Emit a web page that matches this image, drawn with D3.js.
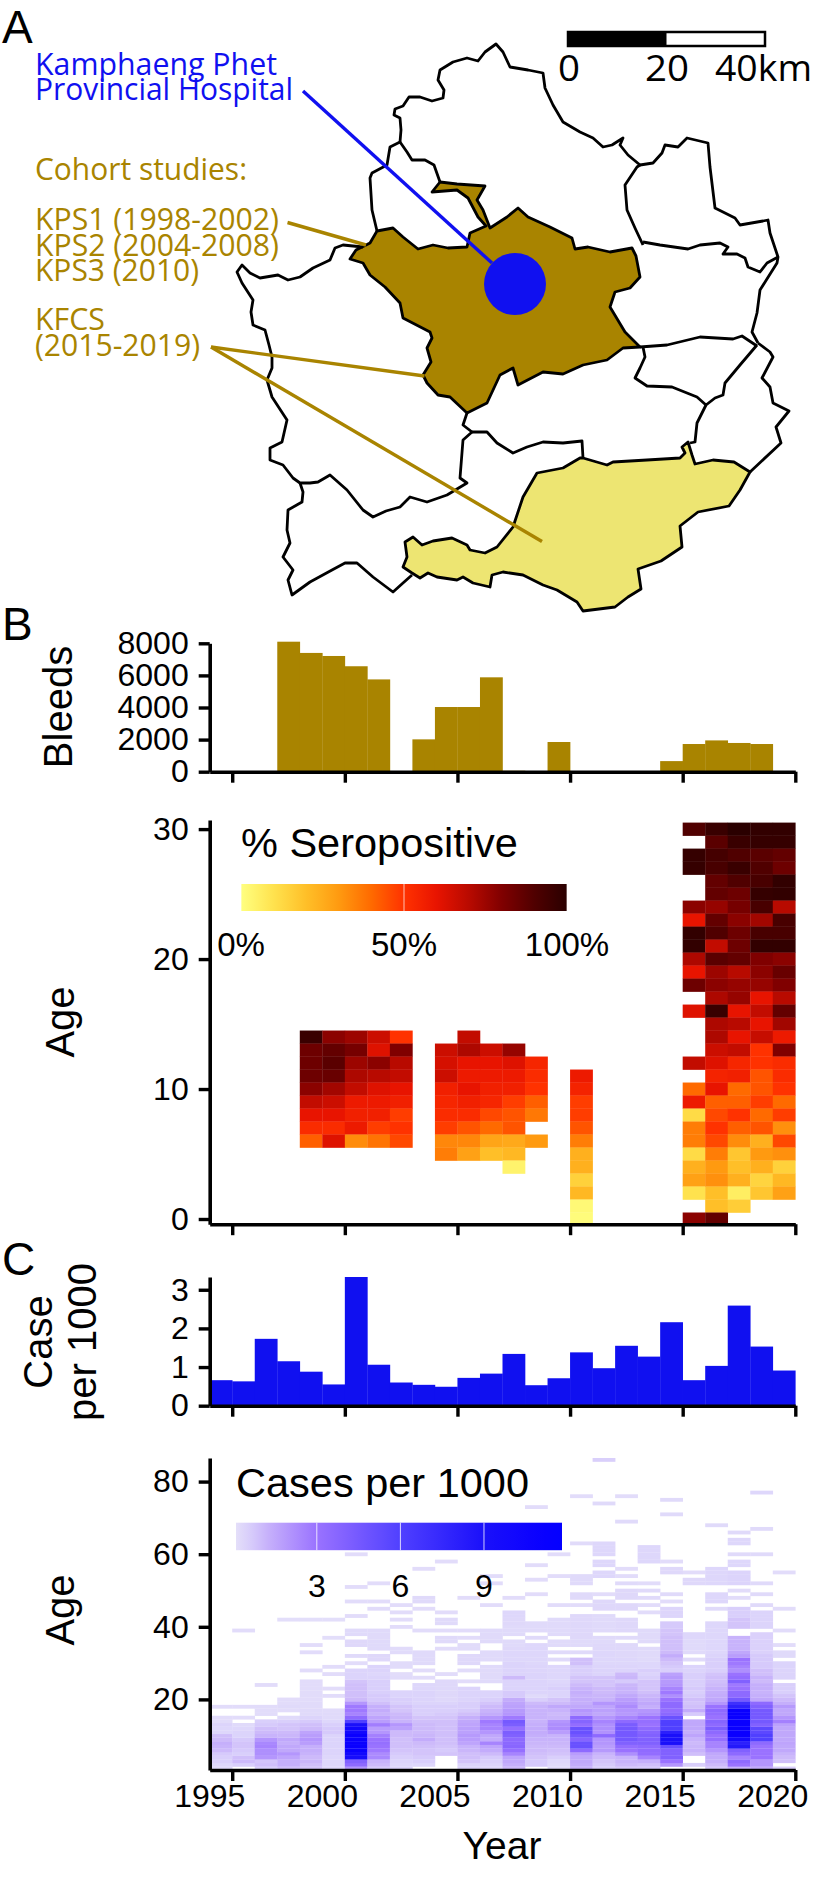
<!DOCTYPE html>
<html>
<head>
<meta charset="utf-8">
<script src="https://cdn.jsdelivr.net/npm/d3@7/dist/d3.min.js"></script>
<style>
  html, body { margin: 0; padding: 0; background: #fff; }
  svg { display: block; font-family: "Liberation Sans", sans-serif; }
  .axis text { font-size: 32px; fill: #000; font-family: "Liberation Sans", sans-serif; }
  .axis path, .axis line { stroke: #000; }
  .axis path { stroke-width: 3.6px; }
  .axis line { stroke-width: 3.4px; }
</style>
</head>
<body>
<div id="chart"></div>
<script>
// top panel: bleeds per study year
var bleedYears = [1998, 1999, 2000, 2001, 2002, 2004, 2005, 2006, 2007, 2008, 2010, 2015, 2016, 2017, 2018, 2019];
var bleedValues = [8100, 7400, 7210, 6570, 5750, 2015, 4030, 4030, 5880, 60, 1850, 660, 1725, 1950, 1790, 1725];
var bleedTicks = [0, 2000, 4000, 6000, 8000];

// seropositivity, one column per year, ages listed from the top age down, null = no data
var seroColumns = [
  { year: 1998, top: 14, values: [96, 84, 84, 84, 78, 68, 60, 52, 42] },
  { year: 1999, top: 14, values: [78, 86, 88, 85, 74, 66, 60, 52, 62] },
  { year: 2000, top: 14, values: [75, 82, 75, 72, 68, 58, 56, 58, 33] },
  { year: 2001, top: 14, values: [66, 62, 78, 70, 62, 58, 56, 48, 38] },
  { year: 2002, top: 14, values: [50, 80, 70, 68, 60, 56, 48, 50, 46] },
  { year: 2004, top: 13, values: [66, 64, 66, 56, 54, 52, 48, 34, 36] },
  { year: 2005, top: 14, values: [68, 72, 60, 58, 60, 56, 52, 44, 34, 28] },
  { year: 2006, top: 13, values: [66, 60, 58, 56, 54, 46, 40, 27, 20] },
  { year: 2007, top: 13, values: [76, 62, 58, 56, 48, 44, 44, 26, 22, 4] },
  { year: 2008, top: 12, values: [54, 52, 50, 42, 37, null, 30] },
  { year: 2010, top: 11, values: [58, 55, 48, 48, 44, 36, 24, 24, 15, 22, 2, 1] },
  { year: 2015, top: 30, values: [90, null, 97, 97, null, null, 78, 60, 98, 98, 72, 60, 84, null, 62, null, null, null, 68, null, 40, 58, 12, 36, 36, 12, 24, 28, 10, null, 78] },
  { year: 2016, top: 30, values: [96, 88, 93, 92, 86, 86, 76, 86, 90, 68, 88, 75, 78, 72, 96, 72, 72, 66, 62, 55, 60, 42, 46, 50, 46, 36, 30, 32, 20, 20, 86] },
  { year: 2017, top: 30, values: [100, 96, 90, 96, 90, 84, 82, 78, 84, 84, 86, 70, 76, 76, 60, 70, 60, 68, 54, 56, 40, 42, 50, 42, 33, 18, 20, 24, 6, 16] },
  { year: 2018, top: 30, values: [98, 97, 88, 90, 92, 97, 92, 74, 92, 98, 80, 78, 76, 60, 68, 60, 67, 50, 50, 44, 44, 48, 40, 44, 24, 30, 24, 14, 18] },
  { year: 2019, top: 30, values: [98, 97, 86, 84, 98, 98, 70, 92, 92, 98, 78, 85, 80, 70, 86, 74, 58, 80, 52, 52, 50, 40, 48, 32, 46, 32, 15, 22, 28] }
];
var ageTicks = [0, 10, 20, 30];
var seroLegendTicks = [0, 50, 100];

// cases per 1000, all ages
var caseYears = d3.range(1995, 2021);
var caseTotals = [0.66, 0.63, 1.73, 1.15, 0.88, 0.55, 3.33, 1.06, 0.6, 0.54, 0.49, 0.72, 0.83, 1.34, 0.53, 0.71, 1.38, 0.97, 1.55, 1.27, 2.16, 0.66, 1.03, 2.59, 1.53, 0.91];
var caseTicks = [0, 1, 2, 3];

// cases per 1000 by age: one row per year in caseYears, ages 1 to 25, 0 = no cases
var casesYoung = [
  [.3,.4,.6,.6,.7,1,1.2,1.3,1,.9,.4,.4,.5,.2,.2,0,0,.2,0,0,0,0,0,0,0],
  [0,.6,1,.9,.6,.7,.8,.8,.7,.5,.5,.4,.3,0,.2,0,0,.2,0,0,0,0,0,0,0],
  [.6,.9,.8,2,2.2,2.2,2.5,2.4,2,1.2,1,.9,.7,.6,0,.2,.2,.2,0,0,0,0,0,.2,0],
  [.9,1.3,1.3,1.6,2,1.5,1.5,1.3,1.5,1.1,1,.8,.8,.6,.3,0,.2,.3,.2,.2,0,0,0,0,0],
  [.8,.9,1.1,1,1.2,1.3,1.3,1.8,2,1.8,1.6,1,.9,.7,.5,.3,.3,.25,.25,.2,.2,.2,.2,.2,.2],
  [.4,.4,.4,.4,.5,.5,.5,.5,.5,.5,.7,.7,.6,.4,.3,.3,.25,0,0,0,.2,0,.2,0,0],
  [2,3.5,4,9.5,10,11,11,11,11,11,10,10,9,6,3.5,2.5,2.8,2.8,2,1,.9,.9,.9,.9,.8],
  [.7,1,1.2,2.4,2.3,2.8,3,3.2,3,2.6,2,1.8,2.7,1.8,1.6,1.2,1.4,1.3,.9,.7,.7,.6,.6,.6,.6],
  [.5,.4,.5,.6,.7,.8,.9,.9,.9,1,1,1.7,2,1.2,1.1,1,.8,.8,.6,.6,.5,.5,0,0,0],
  [0,.4,.6,.7,.8,.8,.9,1,1.4,1.1,1,1,1,.9,.8,.6,.6,.6,.5,.5,.5,.5,.4,.4,0],
  [0,0,0,0,.8,.7,.8,.9,.9,.9,.9,.9,.9,.9,.8,.7,.6,.6,.5,.35,.35,.35,.35,.35,.35],
  [.5,.5,.8,.9,.9,1.1,1.2,1.6,1.8,1.9,1.7,1.7,1.6,1.5,1.3,.9,.7,.6,.6,.5,.5,.5,.5,0,.2],
  [.4,.5,.6,.7,1,1.4,1.6,2.5,1.4,1.5,2,2.5,2.5,2.8,2,1.4,1.2,1,.8,.6,.5,.5,0,0,.3],
  [1,1.3,1.5,1.6,2.5,3.2,3.7,3.6,3.5,4,4.2,3.2,4.2,4.5,2.8,2,1.9,1.7,1.6,1.4,.7,.7,.5,.5,.5],
  [0,.7,.7,.8,.9,1,1,1.1,1.2,1.3,1.4,1.4,1.3,1.2,1.2,1.2,1.2,1.2,1,.6,.3,.5,.5,.5,.5],
  [.3,.3,.4,.6,.8,.9,1,1.1,1.2,1.2,1.8,2.3,2.2,2,1.1,1,1.2,1.5,1,.8,.5,.5,.6,.5,.4],
  [1.2,1.4,1.5,1.5,1.8,3.5,5,5,3.8,4.5,5,5,3.3,3.8,3.5,1.8,2,1.5,1.3,1.3,1.2,1.3,1.2,1,.8],
  [.6,.7,.8,1,1.2,1.9,1.8,2,2,3.5,2.1,2.2,2.2,2.5,2,1.5,1.7,1.6,2,1.2,1.1,1,1,.8,.8],
  [.7,1,1.2,1.2,2.2,3,3.3,4,4.5,4.5,4.5,4.5,4.3,3.5,2.5,1.9,2,2.3,2,1.8,1.5,1.2,1.2,1.1,.7],
  [.7,.9,1.3,2.5,3.3,3.4,3.5,4,4,4,3.8,3.5,3,3.2,3,2.2,2,1.3,1.5,1.3,1.1,.9,.8,.8,.8],
  [0,2,3,4,4,4,5,9,9,9,8,6,6,6,5,3.6,3.3,3.5,3.5,3,2.2,2.8,2.5,2,1.9],
  [0,.6,0,0,.9,1.2,1.1,1,1.2,1.6,1.3,1.5,1.5,1.5,0,.7,1.4,.9,.8,.9,.7,.6,.7,.6,.6],
  [.7,1,1.3,1.4,1.5,2,2.5,2.5,3.2,3,3.5,4.2,3.5,3.8,3,3.3,3.5,3,2,1.5,1.4,1.3,1.2,1,.9],
  [1.2,3,3.5,2.5,3.5,4,8.5,8,10,11,11,11,11,11,11,11,11,8,7,4.5,3.5,3.5,3,2.8,4],
  [1.4,2,2,3,3,3,3,3.5,6,6,5.5,5.5,4,4.5,4.5,4.5,4.5,4,3.5,1.5,1.3,1.2,1.3,1.3,1],
  [.6,0,.9,1,1.2,1.5,1.5,1.6,1.5,1.5,1.5,1.5,1.7,2.6,2,1.5,1.5,1.9,1.3,1,.8,.6,.6,.6,0]
];

// ages above 25 are sparse, so kept as [age, cases] pairs
var casesOld = [
  [],
  [[39,.2]],
  [],
  [[42,.15]],
  [[28,.2],[33,.2],[35,.2],[42,.15]],
  [[27,.2],[29,.2],[37,.15],[42,.15]],
  [[26,.5],[27,.5],[28,.5],[30,.2],[32,.3],[35,.35],[36,.35],[38,.3],[39,.3],[43,.2],[47,.2],[51,.2],[60,.2]],
  [[26,.5],[27,.4],[28,.5],[29,.5],[31,.35],[32,.35],[34,.3],[35,.3],[36,.3],[37,.3],[38,.3],[39,.3],[45,.25],[47,.2],[52,.2]],
  [[26,.25],[27,.2],[29,.25],[30,.25],[33,.25],[34,.25],[40,.2],[42,.2],[44,.2],[46,.2]],
  [[26,.2],[28,.2],[30,.3],[31,.3],[32,.3],[33,.3],[39,.2],[45,.2],[47,.3],[48,.3],[56,.2]],
  [[27,.2],[34,.2],[36,.3],[37,.3],[39,.2],[41,.3],[42,.3],[44,.2],[58,.2]],
  [[28,.2],[30,.35],[31,.35],[32,.35],[34,.25],[35,.25],[37,.2],[39,.2],[48,.2]],
  [[26,.3],[27,.3],[28,.3],[29,.3],[31,.3],[32,.3],[33,.3],[36,.3],[37,.3],[38,.3],[39,.3],[46,.2],[52,.2],[54,.2]],
  [[26,1],[27,.5],[28,.5],[29,.5],[30,.5],[31,.4],[32,.4],[33,.4],[34,.35],[35,.3],[36,.3],[38,.3],[39,.3],[40,.3],[41,.35],[42,.35],[43,.4],[44,.4],[48,.2]],
  [[26,.5],[27,.5],[28,.45],[29,.45],[30,.4],[31,.4],[32,.4],[33,.4],[34,.4],[35,.4],[37,.3],[39,.3],[40,.3],[41,.3],[49,.2],[53,.2],[57,.2],[73,.2]],
  [[26,.4],[27,.4],[28,.4],[29,.4],[31,.3],[33,.3],[35,.3],[36,.3],[38,.3],[39,.3],[40,.3],[41,.3],[42,.3],[46,.2],[54,.2],[60,.2]],
  [[26,.8],[27,.6],[28,.6],[29,.6],[30,.9],[31,.9],[33,.3],[35,.3],[36,.3],[37,.35],[38,.35],[39,.35],[40,.35],[41,.35],[42,.35],[43,.35],[46,.2],[48,.3],[49,.3],[52,.3],[53,.3],[54,.3],[63,.25],[76,.2]],
  [[26,.8],[27,.5],[28,.5],[29,.45],[30,.4],[31,.4],[32,.4],[33,.4],[34,.35],[35,.35],[36,.3],[37,.3],[39,.3],[40,.3],[41,.3],[42,.3],[43,.3],[45,.35],[46,.35],[47,.35],[49,.2],[54,.4],[55,.4],[57,.4],[58,.4],[60,.4],[61,.4],[62,.4],[63,.4],[74,.3],[86,.6]],
  [[26,1.1],[27,1],[28,.5],[29,.45],[30,.4],[31,.4],[32,.35],[33,.35],[34,.35],[35,.35],[37,.3],[39,.35],[40,.35],[41,.35],[42,.35],[45,.35],[46,.35],[48,.35],[49,.35],[50,.35],[52,.3],[54,.2],[56,.2],[69,.3],[76,.2]],
  [[26,.6],[27,.5],[28,.6],[29,.4],[30,.4],[31,.3],[32,.3],[33,.3],[34,.3],[36,.3],[37,.3],[38,.3],[39,.3],[44,.2],[46,.2],[48,.3],[50,.3],[52,.2],[58,.4],[59,.4],[60,.4],[61,.4],[62,.4]],
  [[26,1.9],[27,1.7],[28,.6],[29,.7],[30,.8],[31,1],[32,1.4],[33,1],[34,.9],[35,.9],[36,.9],[37,.9],[38,.8],[39,.8],[40,.7],[41,.7],[43,.45],[44,.45],[45,.45],[47,.2],[49,.3],[55,.35],[56,.35],[58,.2],[71,.3],[75,.3]],
  [[26,.6],[27,.6],[28,.5],[29,.5],[31,.3],[33,.3],[34,.3],[35,.3],[36,.3],[37,.4],[38,.4],[52,.35],[53,.35],[55,.2]],
  [[26,.9],[27,.8],[28,.6],[29,.6],[30,.6],[31,.6],[32,.5],[33,.4],[34,.4],[35,.4],[36,.4],[37,.4],[38,.4],[39,.4],[40,.4],[41,.4],[45,.3],[47,.4],[48,.4],[49,.4],[52,.4],[53,.4],[54,.4],[55,.4],[56,.4],[68,.3]],
  [[26,3.3],[27,3],[28,2.2],[29,2.5],[30,2.8],[31,3],[32,1.8],[33,1.5],[34,1.2],[35,1.2],[36,1.2],[37,1.2],[40,.8],[41,.8],[42,.8],[43,.6],[44,.6],[45,.6],[48,.2],[50,.2],[52,.5],[53,.5],[54,.5],[55,.5],[57,.4],[58,.4],[60,.3],[63,.4],[64,.4],[66,.3]],
  [[26,1.2],[27,.9],[28,.9],[29,.7],[30,.7],[31,.7],[32,.7],[33,.55],[34,.55],[35,.55],[36,.55],[37,.55],[38,.55],[40,.5],[41,.5],[42,.5],[43,.5],[44,.5],[46,.3],[49,.3],[52,.3],[60,.3],[67,.3],[77,.4]],
  [[26,.5],[27,.5],[28,.5],[29,.5],[30,.5],[32,.3],[33,.3],[35,.2],[39,.2],[45,.2],[55,.2]]
];
var caseAgeTicks = [20, 40, 60, 80];
var caseLegendTicks = [3, 6, 9];

var yearTicks = [1995, 2000, 2005, 2010, 2015, 2020];

// district outlines of the province, in page units
var brownDistrict = [[518,208],[528,217],[550,227],[572,238],[575,249],[588,247],[610,252],[632,248],[636,256],[640,277],[630,288],[615,292],[610,307],[625,332],[640,347],[623,348],[607,360],[583,365],[563,374],[543,372],[518,385],[513,368],[500,375],[487,403],[467,413],[450,397],[438,395],[427,383],[423,375],[431,362],[427,348],[432,338],[430,332],[403,318],[400,303],[385,287],[370,275],[363,263],[350,259],[356,250],[370,243],[377,231],[393,228],[403,237],[418,249],[433,245],[448,248],[467,247],[470,233],[486,226],[478,217],[468,198],[457,190],[432,192],[440,182],[457,184],[485,186],[477,200],[483,210],[490,228],[507,217]];
var yellowDistrict = [[405,542],[413,537],[422,545],[433,541],[452,538],[467,545],[470,550],[485,553],[497,547],[513,527],[523,497],[537,473],[563,468],[580,458],[583,458],[607,465],[613,462],[647,460],[680,458],[685,453],[682,447],[688,442],[692,455],[695,464],[713,460],[734,462],[750,472],[740,490],[729,506],[698,512],[680,526],[682,547],[661,561],[638,569],[641,589],[628,597],[615,607],[583,611],[577,602],[557,590],[543,585],[523,575],[503,572],[492,575],[490,587],[473,583],[463,577],[457,580],[437,577],[428,573],[420,578],[412,573],[403,567],[407,557]];
var borderLines = [
  [[400,142],[401,130],[400,118],[394,115],[395,109],[403,106],[409,97],[420,97],[432,101],[443,98],[444,90],[438,80],[440,70],[453,62],[467,58],[478,61],[485,52],[496,44],[503,52],[510,67],[528,70],[543,73],[545,88],[553,105],[563,122],[580,132],[593,138],[603,147],[612,145],[623,138],[620,145],[628,155],[640,165],[637,167],[625,185],[627,210],[635,228],[643,245]],
  [[400,142],[390,147],[387,165],[372,173],[370,178],[372,210],[377,231]],
  [[400,142],[407,152],[412,160],[425,160],[434,165],[440,182]],
  [[643,242],[660,245],[688,249],[700,245],[720,243],[728,247],[723,254],[737,254],[745,258],[748,267],[760,272],[767,263],[778,257]],
  [[640,165],[653,163],[662,153],[665,145],[678,147],[687,138],[708,143],[710,167],[715,208],[735,218],[740,225],[763,221],[768,220],[770,233],[778,257],[777,263],[760,290],[757,313],[752,332],[758,343]],
  [[640,347],[667,345],[700,337],[733,339],[742,336],[757,346]],
  [[643,347],[645,357],[640,368],[635,378],[647,386],[672,387],[697,397],[706,405],[715,398],[723,395],[725,383],[740,365],[757,345]],
  [[758,343],[770,352],[773,357],[762,378],[770,387],[773,403],[789,411],[776,427],[781,443],[750,472]],
  [[706,405],[697,423],[695,442],[690,443]],
  [[363,247],[343,245],[335,248],[330,260],[313,268],[300,277],[288,280],[278,275],[260,278],[250,273],[242,265],[237,272],[242,283],[253,300],[251,312],[253,325],[265,330],[269,345],[272,357],[272,368],[267,380],[272,397],[287,420],[282,442],[270,448],[270,460],[283,465],[293,478],[300,483],[310,483],[318,482],[330,475],[347,490],[363,510],[373,517],[386,511],[400,507],[410,497],[427,502],[447,495],[467,483],[460,478],[463,440],[472,432],[463,425],[467,413]],
  [[472,432],[487,432],[497,443],[513,453],[527,447],[543,442],[563,443],[582,441],[583,458]],
  [[300,483],[303,492],[302,502],[288,510],[287,530],[290,543],[283,557],[293,570],[288,580],[292,595],[310,582],[332,570],[345,563],[357,563],[373,577],[393,592],[403,583],[412,575]]
];

var gold = "#a98400", blue = "#1010f0";

var svg = d3.select("#chart").append("svg").attr("width", 816).attr("height", 1891);

// ---- A: map
var mapPath = d3.geoPath(d3.geoIdentity());
function polygon(pts) {
  return { type: "Polygon", coordinates: [pts.concat([pts[0]])] };
}
var map = svg.append("g").attr("stroke", "#000").attr("stroke-width", 2.8).attr("stroke-linejoin", "round").attr("fill", "none");
map.append("path").attr("d", mapPath(polygon(yellowDistrict))).attr("fill", "#ede572");
map.append("path").attr("d", mapPath(polygon(brownDistrict))).attr("fill", gold);
map.selectAll(".border").data(borderLines).enter().append("path")
  .attr("class", "border")
  .attr("d", function(d) { return mapPath({ type: "LineString", coordinates: d }); });

function leader(x1, y1, x2, y2, color) {
  svg.append("line").attr("x1", x1).attr("y1", y1).attr("x2", x2).attr("y2", y2)
    .attr("stroke", color).attr("stroke-width", 3.4);
}
leader(303, 91, 492, 263, blue);
svg.append("circle").attr("cx", 515).attr("cy", 284).attr("r", 31).attr("fill", blue);
leader(287.5, 222.5, 366, 245, gold);
leader(211, 347, 424.5, 376, gold);
leader(211, 347, 542, 541.5, gold);

function mapLabel(txt, y, wide, color) {
  svg.append("text").attr("x", 35).attr("y", y)
    .attr("font-family", "'Open Sans', sans-serif").attr("font-size", 31).attr("fill", color)
    .attr("textLength", wide).attr("lengthAdjust", "spacingAndGlyphs").text(txt);
}
mapLabel("Kamphaeng Phet", 75, 242, blue);
mapLabel("Provincial Hospital", 100, 258, blue);
mapLabel("Cohort studies:", 180, 212, gold);
mapLabel("KPS1 (1998-2002)", 230, 244, gold);
mapLabel("KPS2 (2004-2008)", 256, 244, gold);
mapLabel("KPS3 (2010)", 281, 164, gold);
mapLabel("KFCS", 330, 70, gold);
mapLabel("(2015-2019)", 356, 165, gold);

// scale bar
var kmScale = d3.scaleLinear().domain([0, 40]).range([568, 765]);
svg.append("rect").attr("x", kmScale(0)).attr("y", 32).attr("width", kmScale(40) - kmScale(0)).attr("height", 14)
  .attr("fill", "#fff").attr("stroke", "#000").attr("stroke-width", 2.5);
svg.append("rect").attr("x", kmScale(0)).attr("y", 32).attr("width", kmScale(20) - kmScale(0)).attr("height", 14).attr("fill", "#000");
[["0", 558, 22], ["20", 645, 44], ["40km", 715, 97]].forEach(function(d) {
  svg.append("text").attr("x", d[1]).attr("y", 81).attr("font-size", 37)
    .attr("font-family", "'Open Sans', sans-serif")
    .attr("textLength", d[2]).attr("lengthAdjust", "spacingAndGlyphs").text(d[0]);
});

// panel letters
[["A", 2, 43], ["B", 2, 640], ["C", 2, 1275]].forEach(function(d) {
  svg.append("text").attr("x", d[1]).attr("y", d[2]).attr("font-size", 46).text(d[0]);
});

// shared year scale
var x = d3.scaleLinear().domain([1994, 2020]).range([209.7, 795.3]);

function xAxis(y, withLabels) {
  var g = svg.append("g").attr("class", "axis").attr("transform", "translate(0," + y + ")")
    .call(d3.axisBottom(x).tickValues(yearTicks).tickSize(11).tickSizeOuter(0).tickFormat(withLabels ? d3.format("d") : ""));
  // the year labels sit left of their ticks in the figure
  g.selectAll("text").attr("dx", -23);
  return g;
}
function yAxis(scale, ticks) {
  svg.append("g").attr("class", "axis").attr("transform", "translate(209.7,0)")
    .call(d3.axisLeft(scale).tickValues(ticks).tickSize(11).tickSizeOuter(0).tickPadding(10).tickFormat(d3.format("d")));
}
function sideLabel(txt, xpos, ypos, size) {
  svg.append("text").attr("transform", "translate(" + xpos + "," + ypos + ") rotate(-90)")
    .attr("text-anchor", "middle").attr("font-size", size || 40).text(txt);
}

// ---- B: bleeds
var yBleed = d3.scaleLinear().domain([0, 8000]).range([771.7, 643.3]);
svg.selectAll(".bleed").data(bleedYears).enter().append("rect")
  .attr("class", "bleed").attr("fill", gold)
  .attr("x", function(d) { return x(d - 1); })
  .attr("width", x(1) - x(0) + 0.3)
  .attr("y", function(d, i) { return yBleed(bleedValues[i]); })
  .attr("height", function(d, i) { return yBleed(0) - yBleed(bleedValues[i]); });
yAxis(yBleed, bleedTicks);
xAxis(771.7, false);
sideLabel("Bleeds", 72, 707);

// ---- B: seropositivity heat map
var seroColor = d3.scaleLinear()
  .domain([0, 10, 20, 30, 40, 50, 60, 70, 80, 90, 100])
  .range(["#ffff80", "#ffe24e", "#ffbf28", "#ff9a10", "#ff6a00", "#ff3200", "#e81400", "#b80a00", "#800000", "#500000", "#2a0000"]);
var ySero = d3.scaleLinear().domain([-0.4, 30.7]).range([1224.2, 820]);
var seroG = svg.append("g");
seroColumns.forEach(function(col) {
  var cells = col.values.map(function(v, i) { return { age: col.top - i, value: v }; })
    .filter(function(d) { return d.value !== null; });
  seroG.selectAll(null).data(cells).enter().append("rect")
    .attr("x", x(col.year))
    .attr("width", x(1) - x(0) + 0.3)
    .attr("y", function(d) { return ySero(d.age + 0.5); })
    .attr("height", ySero(0) - ySero(1) + 0.3)
    .attr("fill", function(d) { return seroColor(d.value); });
});
yAxis(ySero, ageTicks);
xAxis(1224.2, false);
sideLabel("Age", 74, 1022);

svg.append("text").attr("x", 241).attr("y", 857).attr("font-size", 41.5).text("% Seropositive");
var defs = svg.append("defs");
function gradient(id, color, domain) {
  var lg = defs.append("linearGradient").attr("id", id);
  d3.range(0, 21).forEach(function(i) {
    lg.append("stop").attr("offset", (i * 5) + "%")
      .attr("stop-color", color(domain[0] + (domain[1] - domain[0]) * i / 20));
  });
}
gradient("seroRamp", seroColor, [0, 100]);
var seroLegend = d3.scaleLinear().domain([0, 100]).range([241, 567]);
svg.append("rect").attr("x", seroLegend(0)).attr("y", 884).attr("width", seroLegend(100) - seroLegend(0)).attr("height", 27)
  .attr("fill", "url(#seroRamp)");
svg.selectAll(".seroTick").data(seroLegendTicks).enter().append("line")
  .attr("class", "seroTick")
  .attr("x1", seroLegend).attr("x2", seroLegend)
  .attr("y1", 884).attr("y2", 911).attr("stroke", "#fff").attr("stroke-width", 0.7);
svg.selectAll(".seroLabel").data(seroLegendTicks).enter().append("text")
  .attr("class", "seroLabel")
  .attr("x", seroLegend).attr("y", 956).attr("text-anchor", "middle").attr("font-size", 33)
  .text(function(d) { return d + "%"; });

// ---- C: cases
var yCase = d3.scaleLinear().domain([0, 3.33]).range([1405.7, 1277]);
svg.selectAll(".total").data(caseYears).enter().append("rect")
  .attr("class", "total").attr("fill", blue)
  .attr("x", function(d) { return x(d - 1); })
  .attr("width", x(1) - x(0) + 0.3)
  .attr("y", function(d, i) { return yCase(caseTotals[i]); })
  .attr("height", function(d, i) { return yCase(0) - yCase(caseTotals[i]); });
yAxis(yCase, caseTicks);
xAxis(1405.7, false);
sideLabel("Case", 52, 1342);
sideLabel("per 1000", 96, 1342);

// ---- C: cases by age heat map
var caseColor = d3.scaleLinear()
  .domain([0, 0.5, 1, 3, 6, 9, 11])
  .range(["#e6e2f9", "#dcd4fb", "#cdbafa", "#9a72ff", "#5040ff", "#1a10fa", "#0a00ff"]);
var yAge = d3.scaleLinear().domain([0, 86]).range([1772, 1459.8]);
var ageG = svg.append("g");
caseYears.forEach(function(year, i) {
  var rows = casesYoung[i].map(function(v, j) { return [j + 1, v]; }).concat(casesOld[i])
    .filter(function(d) { return d[1] > 0; });
  ageG.selectAll(null).data(rows).enter().append("rect")
    .attr("x", x(year - 1))
    .attr("width", x(1) - x(0) + 0.3)
    .attr("y", function(d) { return yAge(d[0] + 0.5); })
    .attr("height", yAge(0) - yAge(1) + 0.2)
    .attr("fill", function(d) { return caseColor(d[1]); });
});
var yAgeAxis = d3.scaleLinear().domain([0.55, 86.5]).range([yAge(0.55), yAge(86.5)]);
yAxis(yAgeAxis, caseAgeTicks);
xAxis(1770, true);
sideLabel("Age", 74, 1610);

svg.append("text").attr("x", 236).attr("y", 1497).attr("font-size", 41.5).text("Cases per 1000");
gradient("caseRamp", caseColor, [0.1, 11.8]);
var caseLegend = d3.scaleLinear().domain([0.1, 11.8]).range([236, 562]);
svg.append("rect").attr("x", caseLegend(0.1)).attr("y", 1522.7).attr("width", caseLegend(11.8) - caseLegend(0.1)).attr("height", 27.5)
  .attr("fill", "url(#caseRamp)");
svg.selectAll(".caseTick").data(caseLegendTicks).enter().append("line")
  .attr("class", "caseTick")
  .attr("x1", caseLegend).attr("x2", caseLegend)
  .attr("y1", 1522.7).attr("y2", 1550.2).attr("stroke", "#fff").attr("stroke-width", 0.8);
svg.selectAll(".caseLabel").data(caseLegendTicks).enter().append("text")
  .attr("class", "caseLabel")
  .attr("x", caseLegend).attr("y", 1597).attr("text-anchor", "middle").attr("font-size", 32)
  .text(function(d) { return d; });

svg.append("text").attr("x", 502).attr("y", 1859).attr("text-anchor", "middle").attr("font-size", 39).text("Year");
</script>
</body>
</html>
